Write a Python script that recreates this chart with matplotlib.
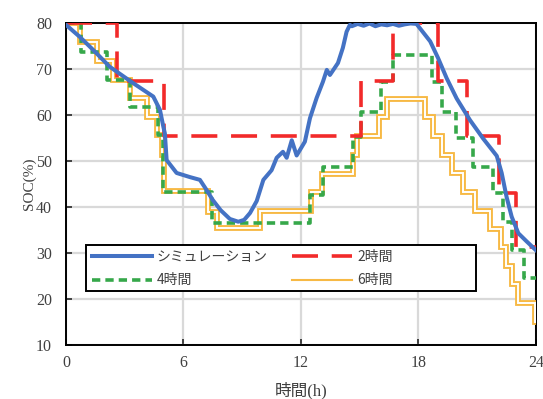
import numpy as np
import matplotlib
matplotlib.use("Agg")
import matplotlib.pyplot as plt
from matplotlib.patches import Rectangle
from matplotlib.lines import Line2D

# simulated state of charge (hours, %)
sim_t = [0, 0.7, 1.4, 2.23, 3.44, 4.46, 4.8, 4.97, 5.05, 5.14, 5.65, 6.33, 6.84,
         7.18, 7.5, 7.9, 8.37, 8.8, 9.1, 9.4, 9.74, 10.08, 10.3, 10.5, 10.76,
         11.08, 11.27, 11.53, 11.78, 12.2, 12.46, 12.8, 13.12, 13.32, 13.48,
         13.89, 14.14, 14.33, 14.5, 14.6, 14.9, 15.2, 15.5, 15.8, 16.1, 16.4,
         16.7, 17.0, 17.3, 17.6, 17.9, 18.6, 19.0, 19.44, 19.95, 20.63, 21.3,
         22.0, 22.25, 22.5, 22.76, 23.1, 23.53, 24.0]
sim_soc = [79.6, 77.0, 74.1, 70.5, 66.9, 64.0, 61.1, 57.5, 56.0, 50.2, 47.4, 46.5,
           45.9, 43.7, 41.5, 39.3, 37.4, 36.8, 37.2, 38.7, 41.3, 45.9, 47.0, 48.0,
           50.7, 52.0, 50.7, 54.5, 51.2, 54.2, 59.3, 63.7, 67.2, 69.8, 68.7,
           71.3, 74.6, 78.1, 79.6, 79.3, 79.8, 79.4, 79.9, 79.3, 79.7, 79.5,
           79.8, 79.4, 79.7, 79.9, 79.8, 76.0, 72.4, 68.0, 63.6, 58.9, 54.9,
           51.1, 47.4, 42.2, 37.9, 34.3, 32.5, 30.6]

# stepwise schedules, value holds from each time until the next one
h2_t = [0, 2.6, 5.0, 15.05, 16.7, 19.0, 20.5, 22.1, 23.0, 24]
h2_soc = [80, 67.4, 55.4, 67.4, 80, 67.4, 55.4, 43.1, 31.2, 31.2]

h4_t = [0, 0.75, 2.07, 3.27, 4.71, 4.97, 7.47, 12.46, 13.13, 14.67, 15.05,
        16.1, 16.7, 18.7, 19.2, 19.9, 20.8, 21.8, 22.3, 22.8, 23.4, 24]
h4_soc = [80, 73.8, 67.6, 61.8, 55.6, 43.3, 36.6, 42.6, 48.8, 55.3, 60.7,
          67.2, 73.0, 67.2, 60.7, 55.0, 48.8, 43.0, 36.8, 30.7, 24.6, 24.6]

h6_t = [0, 0.72, 1.57, 2.42, 3.27, 4.12, 4.63, 4.89, 5.0, 7.27, 7.7, 9.9,
        12.5, 13.1, 14.65, 14.85, 16.0, 16.4, 18.33, 18.76, 19.19, 19.7,
        20.25, 20.9, 21.65, 22.2, 22.45, 22.8, 23.1, 23.95, 24]
h6_soc = [80, 75.9, 71.7, 67.6, 63.6, 59.6, 55.6, 51.3, 43.5, 39.0, 35.4, 39.2,
          43.3, 47.2, 51.3, 55.4, 59.5, 63.4, 59.5, 55.4, 51.3, 47.3,
          43.3, 39.2, 35.3, 31.3, 27.2, 23.3, 19.2, 15.0, 15.0]

x_ticks = [0, 6, 12, 18, 24]
y_ticks = [10, 20, 30, 40, 50, 60, 70, 80]

serif = ["Liberation Serif", "Noto Sans CJK JP"]
jp = ["Noto Sans CJK JP", "DejaVu Sans"]

blue = "#4472c4"
red = "#f22a2a"
green = "#36a84a"
orange = "#f7b944"
red_dash = (7.2, 3.8)
green_dash = (2.3, 1.4)

fig = plt.figure(figsize=(5.43, 3.99), dpi=100)
ax = fig.add_axes([0.1215, 0.1353, 0.8655, 0.8071])

# 6h line is a hollow double stroke
ax.step(h6_t, h6_soc, where="post", color=orange, lw=4.2, zorder=3,
        solid_joinstyle="miter")
ax.step(h6_t, h6_soc, where="post", color="white", lw=1.4, zorder=3.1,
        solid_joinstyle="miter")
ax.step(h4_t, h4_soc, where="post", color=green, lw=2.6,
        dashes=green_dash, zorder=4)
ax.step(h2_t, h2_soc, where="post", color=red, lw=2.6,
        dashes=red_dash, zorder=5)
ax.plot(sim_t, sim_soc, color=blue, lw=2.9, zorder=6,
        solid_joinstyle="round")

ax.set_xlim(0, 24)
ax.set_ylim(10, 80)
ax.set_xticks(x_ticks)
ax.set_yticks(y_ticks)
ax.grid(True, color="#d9d9d9", lw=1.6)
ax.set_axisbelow(True)
for s in ax.spines.values():
    s.set_linewidth(1.4)
    s.set_color("black")
ax.tick_params(direction="in", length=4, width=1.4, pad=7, labelsize=11.5,
               colors="#404040")
ax.tick_params(axis="y", pad=10)
for lab in ax.get_xticklabels() + ax.get_yticklabels():
    lab.set_family(serif)

ax.set_ylabel("SOC(%)", family=serif, fontsize=11, color="#404040", labelpad=0)
ax.set_xlabel("時間(h)", family=serif, fontsize=12, color="#404040", labelpad=8)

# legend entries built from proxy lines
h_sim = Line2D([], [], color=blue, lw=2.9)
h_2 = Line2D([], [], color=red, lw=2.6, dashes=red_dash)
h_4 = Line2D([], [], color=green, lw=2.6, dashes=green_dash)
h_6 = Line2D([], [], color=orange, lw=1.5)
ax.add_patch(Rectangle((0.043, 0.169), 0.829, 0.141, transform=ax.transAxes,
                       facecolor="white", edgecolor="black", lw=1.4, zorder=7))
leg = ax.legend([h_sim, h_4, h_2, h_6], ["シミュレーション", "4時間", "2時間", "6時間"],
                ncol=2, loc="upper left", bbox_to_anchor=(0.055, 0.294),
                borderaxespad=0, borderpad=0, frameon=False, handlelength=4.3,
                handletextpad=0.35, columnspacing=1.8, labelspacing=0.65,
                prop={"family": jp, "size": 10})
leg.set_zorder(8)
for t in leg.get_texts():
    t.set_color("#404040")

fig.savefig("out.png", dpi=100)
